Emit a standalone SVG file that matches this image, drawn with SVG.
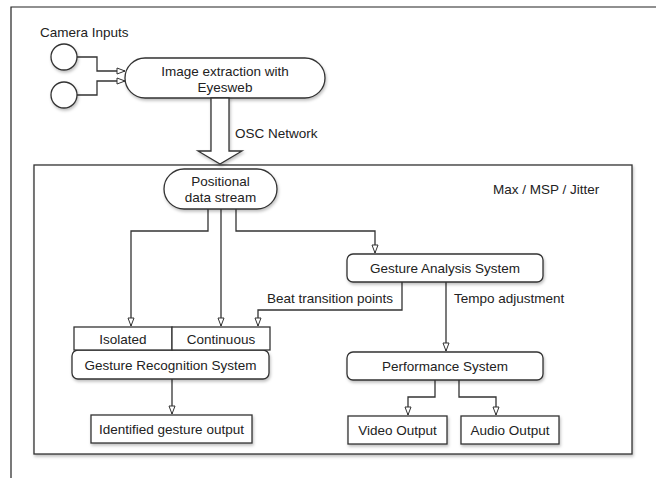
<svg xmlns="http://www.w3.org/2000/svg" width="656" height="478" viewBox="0 0 656 478">
<style>
text{font-family:"Liberation Sans",Arial,Helvetica,sans-serif;font-size:13.5px;fill:#222}
.c{text-anchor:middle}
.n{fill:#fff;stroke:#333;stroke-width:1.3}
.l{fill:none;stroke:#333;stroke-width:1.3}
.f{fill:none;stroke:#222;stroke-width:1.2}
</style>
<defs>
<filter id="sh" x="-20%" y="-20%" width="140%" height="160%">
<feDropShadow dx="1" dy="2" stdDeviation="1.5" flood-color="#000" flood-opacity="0.25"/>
</filter>
<marker id="a" viewBox="0 0 10 8" refX="9" refY="4" markerWidth="10" markerHeight="8" markerUnits="userSpaceOnUse" orient="auto">
<path d="M1,1 L9,4 L1,7 z" fill="#fff" stroke="#333" stroke-width="1"/>
</marker>
</defs>
<rect width="656" height="478" fill="#fff"/>
<g id="frame">
<path class="f" d="M11,478 V7 H656"/>
</g>
<g id="container">
<rect x="34" y="165" width="598" height="289" fill="#fff" stroke="#333" stroke-width="1.3" filter="url(#sh)"/>
<text x="493" y="194">Max / MSP / Jitter</text>
</g>
<g id="connectors">
<path class="l" d="M77,57 H97 V71 H125" marker-end="url(#a)"/>
<path class="l" d="M77,95 H97 V81 H125" marker-end="url(#a)"/>
<path class="l" d="M208,209 V231 H131 V326" marker-end="url(#a)"/>
<path class="l" d="M221,209 V326" marker-end="url(#a)"/>
<path class="l" d="M236,209 V231 H375 V253" marker-end="url(#a)"/>
<path class="l" d="M402,282 V310 H258 V326" marker-end="url(#a)"/>
<path class="l" d="M446,282 V351" marker-end="url(#a)"/>
<path class="l" d="M172,379 V414" marker-end="url(#a)"/>
<path class="l" d="M435,380 V397 H408 V415" marker-end="url(#a)"/>
<path class="l" d="M459,380 V397 H496 V415" marker-end="url(#a)"/>
<text x="267" y="303">Beat transition points</text>
<text x="454" y="303">Tempo adjustment</text>
</g>
<g id="camera-inputs">
<text x="40" y="37">Camera Inputs</text>
<circle class="n" cx="64" cy="57" r="13" filter="url(#sh)"/>
<circle class="n" cx="64" cy="95" r="13" filter="url(#sh)"/>
</g>
<g id="image-extraction">
<rect class="n" x="125" y="58" width="200" height="40" rx="20" filter="url(#sh)"/>
<text class="c" x="225" y="76">Image extraction with</text>
<text class="c" x="225" y="92">Eyesweb</text>
</g>
<g id="osc-network">
<polygon class="n" points="211,98 229,98 229,151 242,151 220,164 198,151 211,151" filter="url(#sh)"/>
<text x="235" y="138">OSC Network</text>
</g>
<g id="positional-data">
<rect class="n" x="164" y="169" width="113" height="40" rx="20" filter="url(#sh)"/>
<text class="c" x="220.5" y="186">Positional</text>
<text class="c" x="220.5" y="202">data stream</text>
</g>
<g id="gesture-analysis">
<rect class="n" x="347" y="254" width="196" height="28" rx="6" filter="url(#sh)"/>
<text class="c" x="445" y="273">Gesture Analysis System</text>
</g>
<g id="gesture-recognition">
<rect class="n" x="72" y="350" width="197" height="29" rx="6" filter="url(#sh)"/>
<text class="c" x="170.5" y="370">Gesture Recognition System</text>
</g>
<g id="isolated">
<rect class="n" x="74" y="327" width="98" height="23"/>
<text class="c" x="123" y="344">Isolated</text>
</g>
<g id="continuous">
<rect class="n" x="172" y="327" width="98" height="23"/>
<text class="c" x="221" y="344">Continuous</text>
</g>
<g id="identified-output">
<rect class="n" x="91" y="415" width="161" height="28" filter="url(#sh)"/>
<text class="c" x="171.5" y="434">Identified gesture output</text>
</g>
<g id="performance">
<rect class="n" x="347" y="352" width="196" height="28" rx="6" filter="url(#sh)"/>
<text class="c" x="445" y="371">Performance System</text>
</g>
<g id="video-output">
<rect class="n" x="348" y="416" width="99" height="28" filter="url(#sh)"/>
<text class="c" x="397.5" y="435">Video Output</text>
</g>
<g id="audio-output">
<rect class="n" x="461" y="416" width="98" height="28" filter="url(#sh)"/>
<text class="c" x="510" y="435">Audio Output</text>
</g>
</svg>
